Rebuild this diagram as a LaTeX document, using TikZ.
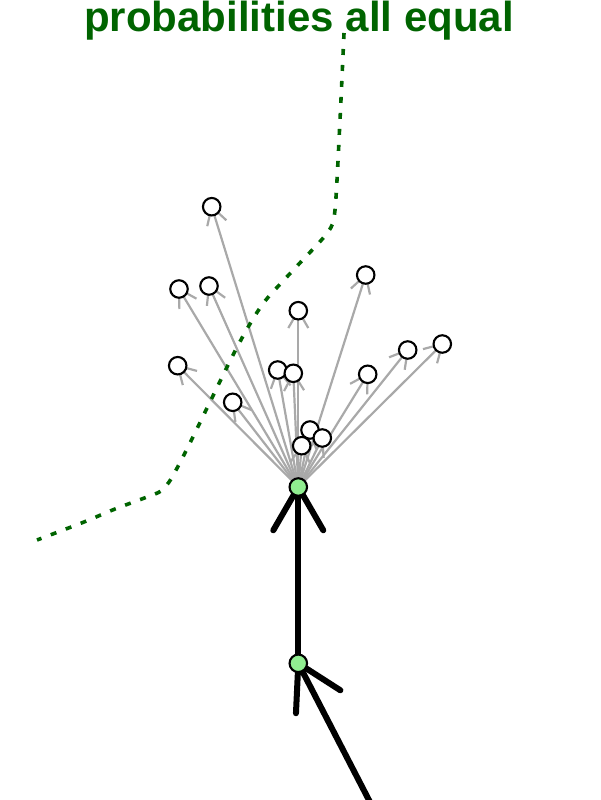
\documentclass[tikz,border=0pt]{standalone}
\usepackage{fontspec}
\setmainfont{Liberation Sans}
\usetikzlibrary{calc}
\pgfdeclarelayer{bg}
\pgfsetlayers{bg,main}
\definecolor{dgreen}{RGB}{0,100,0}
\definecolor{lgreen}{RGB}{144,238,144}
\definecolor{egray}{RGB}{169,169,169}
\begin{document}
\begin{tikzpicture}[x=1pt,y=-1pt,
  leaf/.style={circle,draw=black,fill=white,line width=2.1pt,minimum size=17.5pt,inner sep=0pt},
  rootnode/.style={leaf,fill=lgreen},
  thinedge/.style={draw=egray,line width=2.2pt},
  thickedge/.style={draw=black,line width=6pt,line cap=round},
  pathline/.style={draw=dgreen,line width=3.6pt,dash pattern=on 6pt off 10pt}]
\useasboundingbox (0,0) rectangle (600,800);
\node[font=\bfseries\fontsize{42}{50}\selectfont,text=dgreen,anchor=base,inner sep=0pt] (title) at (299,32) {probabilities all equal};
\node[rootnode] (c) at (298.3,487) {};
\node[rootnode] (r) at (298.3,663.3) {};
\coordinate (s) at (372,806);
\foreach \i/\x/\y in {1/211.7/206.7, 2/179/289, 3/209/286, 4/365.7/275, 5/298.3/310.7,
  6/442.3/344, 7/407.7/350, 8/177.7/365.7, 9/277.7/370, 10/293.3/373.3,
  11/367.7/374.3, 12/232.7/402.3, 13/310/430, 14/322.3/438, 15/301.7/445.7}
  {\node[leaf] (n\i) at (\x,\y) {};}
\begin{pgfonlayer}{bg}
\foreach \i in {1,...,15} {
  \draw[thinedge] (c.center) -- (n\i.center);
  \draw[thinedge] ($(n\i.center)!20pt!30:(c.center)$) -- (n\i.center) -- ($(n\i.center)!20pt!-30:(c.center)$);
}
\draw[thickedge] (s) -- (r.center);
\draw[thickedge] ($(r.center)!50pt!30:(s)$) -- (r.center) -- ($(r.center)!50pt!-30:(s)$);
\draw[thickedge] (r.center) -- (c.center);
\draw[thickedge] ($(c.center)!50pt!30:(r.center)$) -- (c.center) -- ($(c.center)!50pt!-30:(r.center)$);
\end{pgfonlayer}
\draw[pathline] plot[smooth,tension=0.45] coordinates {(344,33) (340,120) (335,210) (328,232) (298,265) (265,301) (247,329) (231,359) (209,404) (187,449) (171,479) (161,491) (147,497) (115,509) (84,522) (37,540)};
\end{tikzpicture}
\end{document}
